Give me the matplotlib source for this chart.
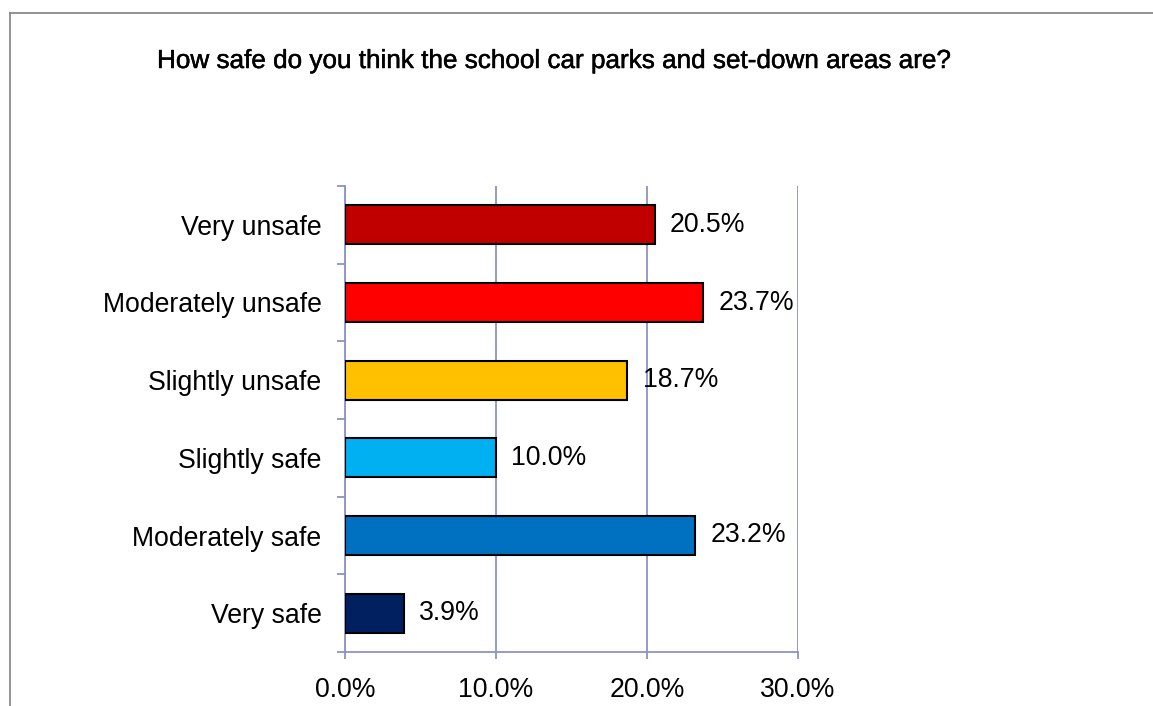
import numpy as np
import matplotlib
matplotlib.use("Agg")
import matplotlib.pyplot as plt
import matplotlib.patheffects as pe
import matplotlib.transforms as mtransforms
from matplotlib.lines import Line2D

plt.rcParams['font.family'] = ['Liberation Sans', 'DejaVu Sans']

# data, bottom to top as drawn
categories = ['Very safe', 'Moderately safe', 'Slightly safe',
              'Slightly unsafe', 'Moderately unsafe', 'Very unsafe']
values = [3.9, 23.2, 10.0, 18.7, 23.7, 20.5]
colors = ['#002060', '#0070C0', '#00B0F0', '#FFC000', '#FF0000', '#C00000']
xticks = [0, 10, 20, 30]

axis_col = '#8C92C4'
fs = 19.2

fig = plt.figure(figsize=(11.53, 7.06), dpi=100)
W, H = 1153, 706
ax = fig.add_axes([345 / W, 1 - 652 / H, (798 - 345) / W, (652 - 186) / H])

y = np.arange(len(categories))
bars = ax.barh(y, values, height=0.5, color=colors, edgecolor='black',
               linewidth=1.5, zorder=3)
texts = ax.bar_label(bars, labels=[f'{v:.1f}%' for v in values], padding=11,
                     fontsize=fs)
# nudge data labels down a touch
shift = mtransforms.ScaledTranslation(0, -2 / 100, fig.dpi_scale_trans)
for t in texts:
    t.set_transform(t.get_transform() + shift)

ax.set_xlim(0, 30)
ax.set_ylim(-0.5, len(categories) - 0.5)
ax.set_xticks(xticks)
ax.set_xticklabels([f'{t:.1f}%' for t in xticks], fontsize=fs)
ax.set_yticks(y)
ax.set_yticklabels(categories, fontsize=fs)
ax.set_yticks(np.arange(len(categories) + 1) - 0.5, minor=True)

ax.tick_params(axis='y', which='major', length=0, pad=17)
ax.tick_params(axis='y', which='minor', length=5.5, width=1.3, color=axis_col)
ax.tick_params(axis='x', which='major', length=5, width=1.3, color=axis_col, pad=13)

ax.grid(axis='x', color=axis_col, linewidth=1.3, zorder=0)
for s in ['top', 'right']:
    ax.spines[s].set_visible(False)
for s in ['left', 'bottom']:
    ax.spines[s].set_color(axis_col)
    ax.spines[s].set_linewidth(1.3)

fig.text(157 / W, 1 - 61 / H, 'How safe do you think the school car parks and set-down areas are?',
         fontsize=18.8, ha='left', va='center',
         path_effects=[pe.withStroke(linewidth=0.35, foreground='black')])

# chart area border (top and left)
fig.add_artist(Line2D([9.5 / W, 1], [1 - 12.5 / H, 1 - 12.5 / H], color='#8a8a8a',
                      linewidth=1.3, transform=fig.transFigure))
fig.add_artist(Line2D([9.5 / W, 9.5 / W], [1 - 12.5 / H, 0], color='#8a8a8a',
                      linewidth=1.3, transform=fig.transFigure))

fig.savefig('out.png', dpi=100)
